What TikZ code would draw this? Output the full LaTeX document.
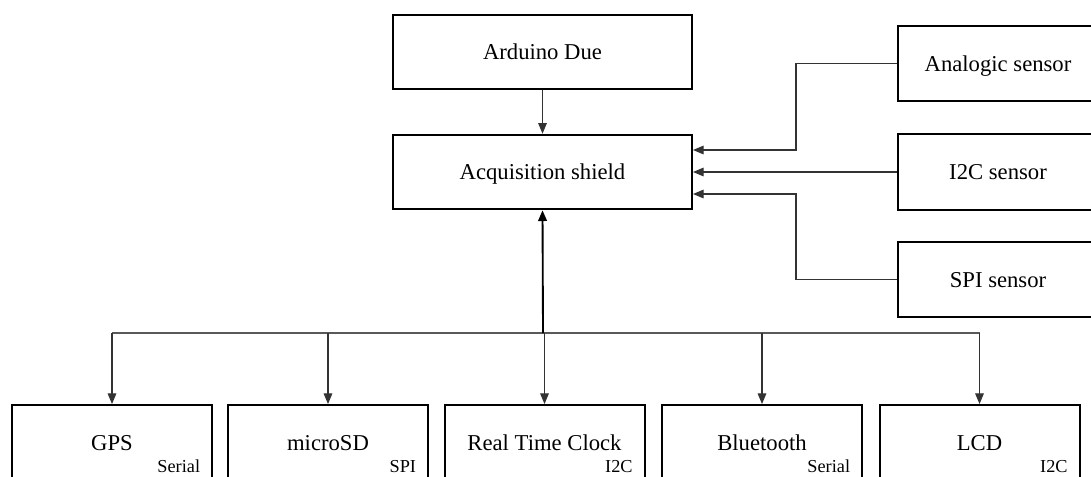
\documentclass[tikz,border=0pt]{standalone}
\usepackage{fontspec}
\setmainfont{Liberation Serif}
\usetikzlibrary{arrows.meta}
\begin{document}
\begin{tikzpicture}[x=0.75pt,y=-0.75pt,
  box/.style={draw=black, line width=1.5pt, inner sep=0pt, text depth=0pt,
    font=\fontsize{17}{20}\selectfont},
  bigbox/.style={box, minimum width=224.25pt, minimum height=56pt},
  sbox/.style={box, minimum width=150pt, minimum height=56.5pt},
  bbox/.style={box, minimum width=150pt, minimum height=110pt, anchor=north},
  lbl/.style={font=\fontsize{17}{20}\selectfont, inner sep=0pt, anchor=base},
  sub/.style={font=\fontsize{13.7}{16}\selectfont, inner sep=0pt, text depth=0pt, anchor=base east},
  tip/.style={-{Triangle[length=8pt,width=6.5pt]}},
  conn/.style={draw=black!80, line width=0.8pt, tip},
  trunk/.style={draw=black, line width=1.4pt},
  bus/.style={draw=black!65, line width=1pt}]
\useasboundingbox (0,0) rectangle (1091,476);
\clip (0,0) rectangle (1091,476);
% top boxes
\node[bigbox] (due) at (542.5,52) {Arduino Due};
\node[bigbox] (shield) at (542.5,172) {Acquisition shield};
\node[sbox] (ana) at (998,63.5) {Analogic sensor};
\node[sbox] (i2c) at (998,172) {I2C sensor};
\node[sbox] (spi) at (998,279.5) {SPI sensor};
% bottom boxes
\node[bbox] (gps) at (112,404) {};
\node[bbox] (sd) at (328,404) {};
\node[bbox] (rtc) at (544.5,404) {};
\node[bbox] (bt) at (762,404) {};
\node[bbox] (lcd) at (979.5,404) {};
\foreach \n/\t/\s in {gps/GPS/Serial, sd/microSD/SPI, rtc/Real Time Clock/I2C, bt/Bluetooth/Serial, lcd/LCD/I2C}{
  \node[lbl] (\n-l) at ([yshift=-34.5pt]\n.north) {\t};
  \node[sub] (\n-s) at ([xshift=-9.5pt,yshift=-51pt]\n.north east) {\s};
}
% connectors
\coordinate (bus) at (543,333);
\draw[conn] (due) -- (shield);
\draw[conn] (ana.west) -| (796,150) -- ([yshift=16.5pt]shield.east);
\draw[conn] (i2c.west) -- (shield.east);
\draw[conn] (spi.west) -| (796,194) -- ([yshift=-16.5pt]shield.east);
\draw[bus] (gps.north |- bus) -- (lcd.north |- bus);
\draw[trunk, tip] (bus) -- (shield.south);
\foreach \n in {gps,sd,rtc,bt,lcd}{
  \draw[conn] (\n.north |- bus) -- (\n.north);
}
\end{tikzpicture}
\end{document}
